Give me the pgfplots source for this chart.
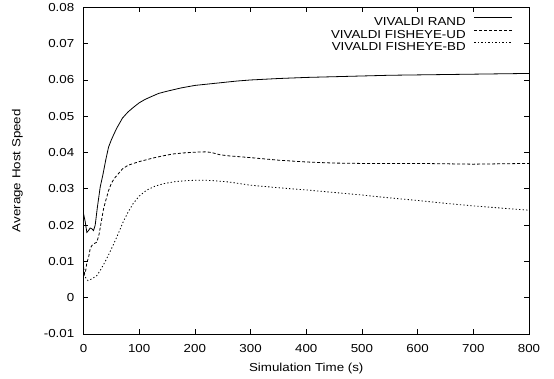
\documentclass[border=0pt]{standalone}
\usepackage{pgfplots}
\pgfplotsset{compat=1.18}
\usepackage{fontspec}
\setmainfont[FakeStretch=1.15]{Liberation Sans}
\newcommand{\gfont}{\fontsize{11.6}{13}\selectfont}
\begin{document}
\gfont
\begin{tikzpicture}
\path[use as bounding box] (-83.5pt,-45pt) rectangle (470.5pt,334pt);
\begin{axis}[
  scale only axis, width=445.5pt, height=326.6pt,
  xmin=0, xmax=800, ymin=-0.01, ymax=0.08,
  xtick={0,100,...,800},
  ytick={-0.01,0,0.01,0.02,0.03,0.04,0.05,0.06,0.07,0.08},
  yticklabels={-0.01,0,0.01,0.02,0.03,0.04,0.05,0.06,0.07,0.08},
  scaled y ticks=false,
  /pgf/number format/assume math mode=true,
  tick align=inside, major tick length=5pt,
  axis line style={line width=0.9pt},
  tick style={line width=0.7pt, black},
  every tick label/.append style={font=\gfont},
  xlabel={Simulation Time (s)}, ylabel={Average Host Speed},
  label style={font=\gfont},
  xlabel style={at={(axis description cs:0.5,0)}, anchor=center, yshift=-34.5pt},
  ylabel style={at={(axis description cs:0,0.5)}, anchor=center, yshift=66pt},
  xticklabel style={yshift=-6pt},
  yticklabel style={xshift=-5.2pt},
  legend plot pos=right,
  legend cell align=right,
  legend image code/.code={\draw[#1] (0pt,3.8pt) -- (38pt,3.8pt);},
  legend style={draw=none, fill=none, at={(429.5pt,317pt)}, anchor=north east,
    font=\gfont, row sep=4pt, column sep=8.3pt, inner sep=0pt,
    nodes={inner sep=0pt, text height=8.5pt, text depth=0pt}},
]
\addplot[black, line width=0.8pt] table {
0 0.0232
3 0.021
6 0.018
9 0.0185
12 0.0192
15 0.019
18 0.0185
21 0.020
25 0.025
30 0.0305
35 0.034
40 0.038
45 0.0415
50 0.0435
55 0.0452
60 0.0468
70 0.0495
80 0.0512
90 0.0525
100 0.0537
110 0.0546
120 0.0553
135 0.0563
150 0.0569
175 0.0578
200 0.0585
225 0.0589
250 0.0593
275 0.0597
300 0.0600
350 0.0604
400 0.0607
450 0.0609
500 0.0611
550 0.0613
600 0.0614
650 0.0615
700 0.0616
750 0.0617
800 0.0618
};
\addlegendentry{VIVALDI RAND}
\addplot[black, line width=0.8pt, dash pattern=on 3pt off 2pt] table {
0 0.0085
2 0.0065
4 0.0075
6 0.0097
9 0.0110
12 0.0135
15 0.0144
20 0.0150
24 0.0153
28 0.0175
32 0.021
36 0.0245
40 0.0268
45 0.0295
50 0.0315
55 0.0328
60 0.0337
70 0.0355
80 0.0365
90 0.0370
100 0.0375
110 0.0379
125 0.0385
140 0.0390
160 0.0396
180 0.0399
200 0.0401
220 0.0402
230 0.0400
245 0.0394
260 0.0391
300 0.0386
350 0.0379
400 0.0374
450 0.0371
500 0.0370
550 0.0370
600 0.0370
650 0.0369
700 0.0368
750 0.0369
800 0.0370
};
\addlegendentry{VIVALDI FISHEYE-UD}
\addplot[black, line width=0.8pt, dash pattern=on 1.3pt off 2.2pt] table {
0 0.0065
4 0.0055
8 0.0047
15 0.0052
24 0.0061
30 0.0075
38 0.0097
45 0.0118
53 0.0144
62 0.0175
71 0.0208
80 0.0236
89 0.0259
100 0.0280
113 0.0296
128 0.0307
143 0.0314
165 0.0320
190 0.0323
210 0.0324
230 0.0323
260 0.0319
300 0.0310
350 0.0303
400 0.0297
450 0.0290
500 0.0283
550 0.0275
600 0.0268
650 0.0260
700 0.0253
750 0.0247
800 0.0241
};
\addlegendentry{VIVALDI FISHEYE-BD}
\end{axis}
\end{tikzpicture}
\end{document}
